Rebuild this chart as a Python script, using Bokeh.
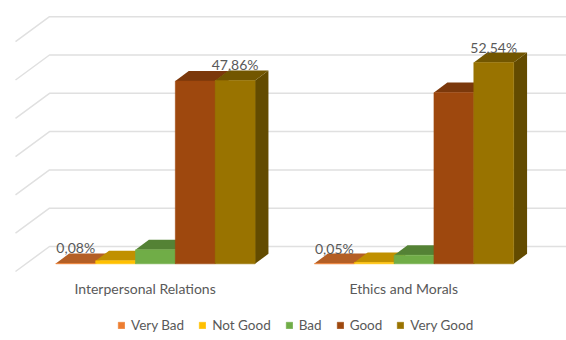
from bokeh.core.properties import value
from bokeh.embed import file_html
from bokeh.models import Legend, LegendItem
from bokeh.plotting import figure
from bokeh.resources import INLINE

categories = ["Interpersonal Relations", "Ethics and Morals"]
series = ["Very Bad", "Not Good", "Bad", "Good", "Very Good"]
very_bad = [0.08, 0.05]
not_good = [0.80, 0.35]
bad = [3.65, 2.25]
good = [47.70, 44.70]
very_good = [47.86, 52.54]
front_colors = ["#ED7D31", "#FFC000", "#70AD47", "#9E480E", "#997300"]
top_colors = ["#B45F25", "#C09000", "#548235", "#7B380B", "#725600"]
side_colors = ["#8A4A1C", "#8F6C00", "#3E6228", "#5C2A08", "#634B00"]
gridline_values = [0, 10, 20, 30, 40, 50, 60]
labelled = {(0, 0): "0,08%", (1, 0): "0,05%", (0, 4): "47,86%", (1, 4): "52,54%"}

FONT = "Lato"
TEXT = "#595959"
PX_X = 39.85      # pixels per bar width
PX_Y = 3.83       # pixels per percentage point
GROUP_START = [0.0, 6.49]
DEPTH_X = 13.4 / PX_X
DEPTH_Y = 10 / PX_Y

p = figure(
    width=566, height=340,
    x_range=(-55.3 / PX_X, (566 - 55.3) / PX_X),
    y_range=(-76.7 / PX_Y, 263.3 / PX_Y),
    output_backend="svg", toolbar_location=None,
    x_axis_type=None, y_axis_type=None,
    min_border=0, outline_line_color=None,
    background_fill_color="white", border_fill_color="white",
)
p.grid.visible = False

# Back wall rules and their slanted continuation across the side wall.
wall_dx, wall_dy_back, wall_dy_front = 34 / PX_X, 17.3 / PX_Y, 7.7 / PX_Y
left = -40.3 / PX_X
right = (566 - 55.3) / PX_X
for g in gridline_values:
    p.line([left, left + wall_dx, right],
           [g - wall_dy_front, g + wall_dy_back, g + wall_dy_back],
           line_color="#E0E0E0", line_width=1.5)

# Extruded bars, drawn left to right so each one covers its neighbour's side.
rows = [very_bad, not_good, bad, good, very_good]
items = []
for s, name in enumerate(series):
    xs_top, ys_top, xs_side, ys_side, lefts, rights, tops = [], [], [], [], [], [], []
    for c, start in enumerate(GROUP_START):
        x0 = start + s
        x1 = x0 + 1
        v = rows[s][c]
        lefts.append(x0)
        rights.append(x1)
        tops.append(v)
        xs_top.append([x0, x1, x1 + DEPTH_X, x0 + DEPTH_X])
        ys_top.append([v, v, v + DEPTH_Y, v + DEPTH_Y])
        xs_side.append([x1, x1 + DEPTH_X, x1 + DEPTH_X, x1])
        ys_side.append([0, DEPTH_Y, v + DEPTH_Y, v])
    p.patches(xs_side, ys_side, fill_color=side_colors[s], line_color=None)
    p.patches(xs_top, ys_top, fill_color=top_colors[s], line_color=None)
    front = p.quad(left=lefts, right=rights, bottom=[0, 0], top=tops,
                   fill_color=front_colors[s], line_color=front_colors[s], line_width=0.6)
    items.append(LegendItem(label=name, renderers=[front]))

# Data labels on the outer series.
lx, ly, lt = [], [], []
for (c, s), text in labelled.items():
    lx.append(GROUP_START[c] + s + 0.5)
    ly.append(rows[s][c] + 15.5 / PX_Y)
    lt.append(text)
p.text(lx, ly, text=lt, text_align="center", text_baseline="middle",
       text_font=value(FONT), text_font_size="14px", text_color=TEXT)

# Category labels, shifted left of the bars by the depth of the wall.
p.text([start + 2.5 - 0.26 for start in GROUP_START], [-25 / PX_Y] * len(categories),
       text=categories, text_align="center", text_baseline="middle",
       text_font=value(FONT), text_font_size="14px", text_color=TEXT)

legend = Legend(
    items=items, orientation="horizontal", location=(117, 7),
    glyph_width=8, glyph_height=8, label_width=10, spacing=14, label_standoff=6,
    label_text_font=FONT, label_text_font_size="13.5px", label_text_color=TEXT,
    background_fill_alpha=0, border_line_color=None, margin=0, padding=2,
)
p.add_layout(legend, "center")

open("out.html", "w").write(file_html(p, INLINE))
